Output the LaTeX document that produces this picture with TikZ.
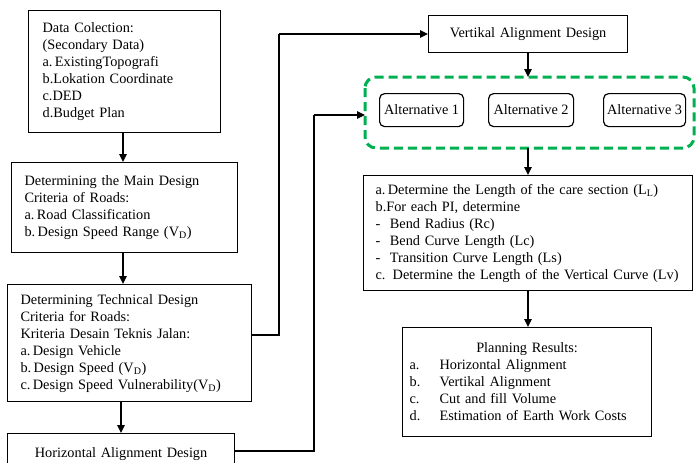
\documentclass[tikz,border=0pt]{standalone}
\usepackage{fontspec}
\setmainfont{Liberation Serif}
\usetikzlibrary{arrows.meta,calc}
\definecolor{grn}{RGB}{0,176,80}
\hbadness=10000 \hfuzz=50pt
\begin{document}
\begin{tikzpicture}[x=1pt,y=-1pt,
  every node/.style={font=\fontsize{14.3}{17}\selectfont},
  box/.style={draw, line width=1.2pt, anchor=north west, align=left, inner ysep=0pt},
  altbox/.style={draw, line width=1.2pt, rounded corners=5pt, anchor=north west, inner sep=0pt, align=center},
  arr/.style={line width=1.3pt, -{Triangle[length=8pt,width=7.5pt]}},
  ln/.style={line width=1.3pt}
]
\useasboundingbox (0,0) rectangle (696,463);
\clip (0,0) rectangle (696,463);
\fill[white] (0,0) rectangle (696,463);

\node[box, text width=164pt, inner xsep=14pt, minimum height=122pt] (b1) at (28,10)
{Data Colection:\\(Secondary Data)\\a.\,ExistingTopografi\\b.Lokation Coordinate\\c.DED\\d.Budget Plan};

\node[box, text width=200pt, inner xsep=13pt, minimum height=90pt] (b2) at (11,162)
{Determining the Main Design\\Criteria of Roads:\\a.\,Road Classification\\b.\,Design Speed Range (V\textsubscript{D})};

\node[box, text width=218pt, inner xsep=13pt, minimum height=117pt] (b3) at (7,284)
{Determining Technical Design\\Criteria for Roads:\\Kriteria Desain Teknis Jalan:\\a.\,Design Vehicle\\b.\,Design Speed (V\textsubscript{D})\\c.\,Design Speed Vulnerability(V\textsubscript{D})};

\node[box, align=center, text width=227pt, inner xsep=0pt, minimum height=40pt] (b4) at (7,433)
{Horizontal Alignment Design\\[6pt]};

\node[box, align=center, text width=199pt, inner xsep=0pt, minimum height=37pt] (v) at (428,15)
{Vertikal Alignment Design};

\draw[grn, line width=3pt, dash pattern=on 9pt off 5pt, rounded corners=11pt]
  (365,77) rectangle (694,148);
\coordinate (gw) at (365,115);
\coordinate (gn) at (528,77);
\coordinate (gs) at (528,148);

\node[altbox, minimum width=84pt, minimum height=33pt] (a1) at (379,93) {Alternative 1};
\node[altbox, minimum width=85pt, minimum height=33pt] (a2) at (488,93) {Alternative 2};
\node[altbox, minimum width=82pt, minimum height=33pt] (a3) at (603,93) {Alternative 3};

\node[box, text width=305pt, inner xsep=12pt, minimum height=115pt] (b5) at (363,175)
{a.\,Determine the Length of the care section (L\textsubscript{L})\\b.For each PI, determine\\-\ \ Bend Radius (Rc)\\-\ \ Bend Curve Length (Lc)\\-\ \ Transition Curve Length (Ls)\\\mbox{c. Determine the Length of the Vertical Curve (Lv)}};

\node[box, text width=235pt, inner xsep=7pt, minimum height=109pt] (b6) at (402,327)
{\makebox[235pt][c]{Planning Results:}\\
\makebox[30pt][l]{a.}Horizontal Alignment\\
\makebox[30pt][l]{b.}Vertikal Alignment\\
\makebox[30pt][l]{c.}Cut and fill Volume\\
\makebox[30pt][l]{d.}Estimation of Earth Work Costs};

% vertical flow on the left
\draw[arr] (b1.south -| 123,0) -- (b2.north -| 123,0);
\draw[arr] (b2.south -| 123,0) -- (b3.north -| 123,0);
\draw[arr] (b3.south -| 121,0) -- (b4.north -| 121,0);

% elbows
\draw[ln] (b3.east |- 0,335) -- (279,335) -- (279,34);
\draw[arr] (279,34) -- (v.west |- 0,34);
\draw[ln] (b4.east |- 0,451) -- (314,451) -- (314,115);
\draw[arr] (314,115) -- (gw);

% right flow
\draw[arr] (v.south -| gn) -- (gn);
\draw[arr] (gs) -- (b5.north -| gs);
\draw[arr] (b5.south -| gs) -- (b6.north -| gs);
\end{tikzpicture}
\end{document}
